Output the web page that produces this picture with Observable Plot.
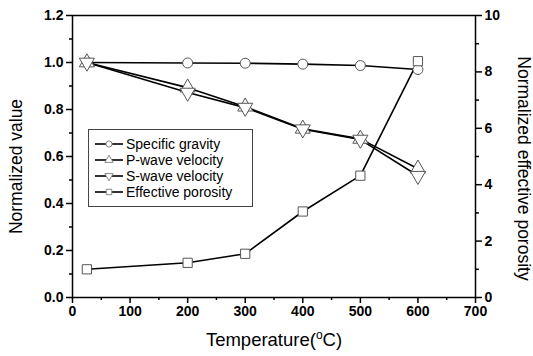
<!DOCTYPE html>
<html>
<head>
<meta charset="utf-8">
<script src="https://cdn.jsdelivr.net/npm/d3@7"></script>
<script src="https://cdn.jsdelivr.net/npm/@observablehq/plot@0.6"></script>
<style>
  html, body { margin: 0; padding: 0; background: #fff; }
  #wrap { position: relative; width: 533px; height: 356px; font-family: "Liberation Sans", Arial, sans-serif; }
  #legend { position: absolute; left: 88px; top: 129px; width: 165px; height: 78px; border: 1px solid #444; background: #fff; box-sizing: border-box; padding-top: 6px; }
  .row { display: flex; align-items: center; height: 16px; font-size: 14px; color: #000; }
  .row svg { margin-left: 6px; margin-right: 3px; }
</style>
</head>
<body>
<div id="wrap"></div>
<script>
const temperature = [25, 200, 300, 400, 500, 600];
const specificGravity = [1.0, 0.998, 0.997, 0.993, 0.987, 0.970];
const pWave = [1.0, 0.893, 0.812, 0.718, 0.675, 0.548];
const sWave = [1.0, 0.872, 0.808, 0.716, 0.672, 0.518];
const porosity = [1.0, 1.23, 1.55, 3.05, 4.32, 8.38];

const seriesNames = ["Specific gravity", "P-wave velocity", "S-wave velocity", "Effective porosity"];
const xTicks = [0, 100, 200, 300, 400, 500, 600, 700];
const xMinor = [50, 150, 250, 350, 450, 550, 650];
const yTicks = [0, 0.2, 0.4, 0.6, 0.8, 1.0, 1.2];
const yMinor = [0.1, 0.3, 0.5, 0.7, 0.9, 1.1];
const y2Ticks = [0, 2, 4, 6, 8, 10];
const y2Minor = [1, 3, 5, 7, 9];

const k = 1.2 / 10; // right axis (0..10) mapped onto left (0..1.2)

const triangleDown = {
  draw(context, size) {
    const y = -Math.sqrt(size / (Math.sqrt(3) * 3));
    context.moveTo(0, -y * 2);
    context.lineTo(-Math.sqrt(3) * y, y);
    context.lineTo(Math.sqrt(3) * y, y);
    context.closePath();
  }
};

const mk = (vals, scale = 1) => temperature.map((t, i) => ({t, v: vals[i] * scale}));
const sg = mk(specificGravity), pw = mk(pWave), sw = mk(sWave), po = mk(porosity, k);

const dotStyle = {x: "t", y: "v", fill: "white", stroke: "#555", strokeWidth: 1};
const lineStyle = {x: "t", y: "v", stroke: "black", strokeWidth: 1.6};

const plot = Plot.plot({
  width: 533, height: 356,
  marginLeft: 72, marginRight: 58, marginTop: 15, marginBottom: 59,
  x: {domain: [0, 700]},
  y: {domain: [0, 1.2]},
  style: {fontFamily: "Liberation Sans, Arial, sans-serif", background: "white"},
  marks: [
    Plot.axisX(xTicks, {tickSize: 6, tickPadding: 3, fontSize: 14, fontWeight: "bold", label: null, strokeWidth: 1.5}),
    Plot.axisX(xMinor, {tickSize: 3, tickFormat: () => "", label: null, strokeWidth: 1.5}),
    Plot.axisY(yTicks, {tickSize: 6, tickPadding: 3, fontSize: 14, fontWeight: "bold", label: null, tickFormat: d3.format(".1f"), strokeWidth: 1.5}),
    Plot.axisY(yMinor, {tickSize: 3, tickFormat: () => "", label: null, strokeWidth: 1.5}),
    Plot.axisY(y2Ticks.map(v => v * k), {anchor: "right", tickSize: 6, tickPadding: 3, fontSize: 14, fontWeight: "bold", label: null, tickFormat: v => Math.round(v / k), strokeWidth: 1.5}),
    Plot.axisY(y2Minor.map(v => v * k), {anchor: "right", tickSize: 3, tickFormat: () => "", label: null, strokeWidth: 1.5}),
    Plot.frame({stroke: "black", strokeWidth: 1.5}),
    Plot.line(sg, lineStyle),
    Plot.line(pw, lineStyle),
    Plot.line(sw, lineStyle),
    Plot.line(po, lineStyle),
    Plot.dot(sg, {...dotStyle, symbol: "circle", r: 5}),
    Plot.dot(pw, {...dotStyle, symbol: "triangle", r: 5.6}),
    Plot.dot(sw, {...dotStyle, symbol: triangleDown, r: 5.6}),
    Plot.dot(po, {...dotStyle, symbol: "square", r: 5.2}),
    Plot.text(["Temperature(C)"], {frameAnchor: "bottom", textAnchor: "middle", dy: 48, fontSize: 18.5, fill: "black", className: "xtitle"}),
    Plot.text(["Normalized value"], {frameAnchor: "left", textAnchor: "middle", dx: -56, dy: 10, rotate: -90, fontSize: 17.5, fill: "black"}),
    Plot.text(["Normalized effective porosity"], {frameAnchor: "right", textAnchor: "middle", dx: 48, dy: 12, rotate: 90, fontSize: 17.5, fill: "black"})
  ]
});

// superscript degree sign in the x title
d3.select(plot).selectAll(".xtitle text").each(function() {
  const t = d3.select(this);
  t.text(null);
  t.append("tspan").text("Temperature(");
  t.append("tspan").attr("font-size", 12).attr("dy", -7).text("o");
  t.append("tspan").attr("dy", 7).text("C)");
});

const wrap = document.getElementById("wrap");
wrap.appendChild(plot);

// legend
const legend = document.createElement("div");
legend.id = "legend";
const symbols = ["circle", "triangle", "triangleDown", "square"];
seriesNames.forEach((name, i) => {
  const row = document.createElement("div");
  row.className = "row";
  const svg = d3.create("svg").attr("width", 28).attr("height", 14);
  svg.append("line").attr("x1", 0).attr("x2", 28).attr("y1", 7).attr("y2", 7).attr("stroke", "black").attr("stroke-width", 1.6);
  const g = svg.append("path").attr("transform", "translate(14,7)").attr("fill", "white").attr("stroke", "#888").attr("stroke-width", 1);
  const sym = symbols[i] === "circle" ? d3.symbolCircle : symbols[i] === "triangle" ? d3.symbolTriangle : symbols[i] === "square" ? d3.symbolSquare : triangleDown;
  g.attr("d", d3.symbol(sym, 30)());
  row.appendChild(svg.node());
  const span = document.createElement("span");
  span.textContent = name;
  row.appendChild(span);
  legend.appendChild(row);
});
wrap.appendChild(legend);
</script>
</body>
</html>
